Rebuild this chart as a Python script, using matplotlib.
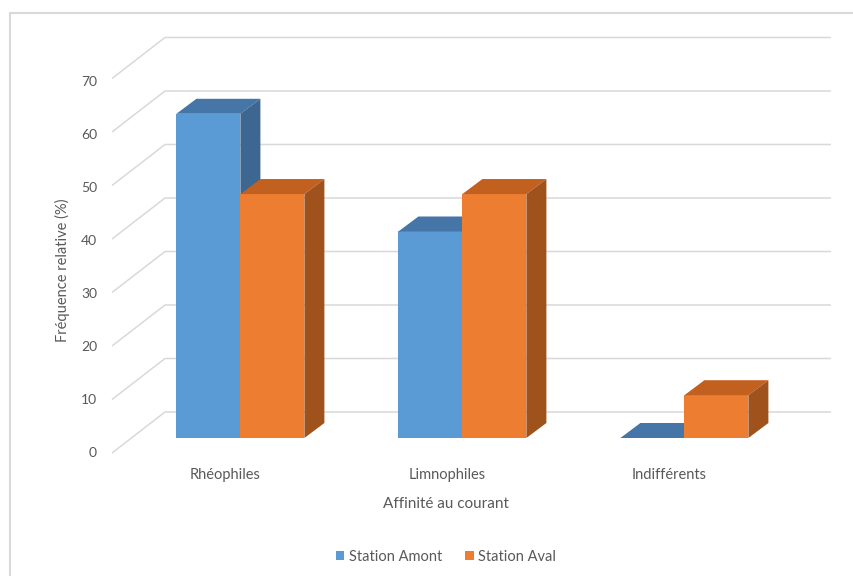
import matplotlib.pyplot as plt
from matplotlib.patches import Polygon, Patch
from matplotlib.lines import Line2D

categories = ['Rhéophiles', 'Limnophiles', 'Indifférents']
amont = [60.6, 38.6, 0.0]
aval = [45.6, 45.6, 8.0]
series_names = ['Station Amont', 'Station Aval']
yticks = [0, 10, 20, 30, 40, 50, 60, 70]

# colours: front, top, side
blue = ('#5B9BD5', '#4676A8', '#3D6690')
orange = ('#ED7D31', '#C2601F', '#A0521C')
grey_txt = '#595959'
grid_c = '#D9D9D9'

plt.rcParams['font.family'] = ['Lato', 'DejaVu Sans']

W, H = 854, 576
fig = plt.figure(figsize=(W / 100, H / 100), dpi=100)
ax = fig.add_axes([0, 0, 1, 1])

# pixel layout -> data units
px_cat = 222.0      # px per category
px_val = 5.35       # px per value unit
x0_px = 221.0       # first category on the front plane
y0_px = H - 453.0   # value 0 on the front plane
ax.set_xlim((0 - x0_px) / px_cat, (W - x0_px) / px_cat)
ax.set_ylim((0 - y0_px) / px_val, (H - y0_px) / px_val)
ax.axis('off')

# full floor depth and bar depth in data units
ddx, ddy = 53 / px_cat, 41 / px_val
bdx, bdy = 20 / px_cat, 15 / px_val
f = 15 / 41                      # where the bars sit in depth
bar_w = 64 / px_cat
x_left = (112 - x0_px) / px_cat
x_right = (831 - x0_px) / px_cat

for v in yticks:
    ax.plot([x_left, x_left + ddx, x_right], [v, v + ddy, v + ddy],
            color=grid_c, lw=1.1, zorder=1, solid_capstyle='butt')
    ax.text(x_left - 15 / px_cat, v - 0.6 * (v / 70), str(v), ha='right', va='center',
            fontsize=10, color=grey_txt)


def bar3d(xl, val, cols, z):
    x2 = xl + bar_w
    y0 = f * ddy
    ax.add_patch(Polygon([(xl, y0), (x2, y0), (x2, y0 + val), (xl, y0 + val)],
                         closed=True, fc=cols[0], ec='none', zorder=z))
    ax.add_patch(Polygon([(xl, y0 + val), (x2, y0 + val), (x2 + bdx, y0 + val + bdy),
                          (xl + bdx, y0 + val + bdy)],
                         closed=True, fc=cols[1], ec='none', zorder=z))
    ax.add_patch(Polygon([(x2, y0), (x2 + bdx, y0 + bdy), (x2 + bdx, y0 + val + bdy),
                          (x2, y0 + val)],
                         closed=True, fc=cols[2], ec='none', zorder=z))


for i in range(len(categories)):
    c = i + f * ddx
    bar3d(c - bar_w, amont[i], blue, 2 + 2 * i)
    bar3d(c, aval[i], orange, 3 + 2 * i)
    ax.text(i + 4 / px_cat, -22 / px_val, categories[i], ha='center', va='center',
            fontsize=10.5, color=grey_txt)

ax.text((446 - x0_px) / px_cat, -51 / px_val, 'Affinité au courant', ha='center',
        va='center', fontsize=11, color=grey_txt)
fig.text(62 / W, 1 - 270 / H, 'Fréquence relative (%)', rotation=90, ha='center',
         va='center', fontsize=10.5, color=grey_txt)

handles = [Patch(fc=blue[0], ec='none'), Patch(fc=orange[0], ec='none')]
fig.legend(handles, series_names, loc='center', bbox_to_anchor=(446 / W, 1 - 557 / H),
           ncol=2, frameon=False, fontsize=10.5, handlelength=0.6, handleheight=0.6,
           handletextpad=0.3, columnspacing=1.6, labelcolor=grey_txt)

# chart area border (left and top only visible)
fig.add_artist(Line2D([10.5 / W, 10.5 / W], [0, 1 - 12.5 / H], color=grid_c, lw=1.5))
fig.add_artist(Line2D([10.5 / W, 1], [1 - 12.5 / H, 1 - 12.5 / H], color=grid_c, lw=1.5))

fig.savefig('out.png', dpi=100)
